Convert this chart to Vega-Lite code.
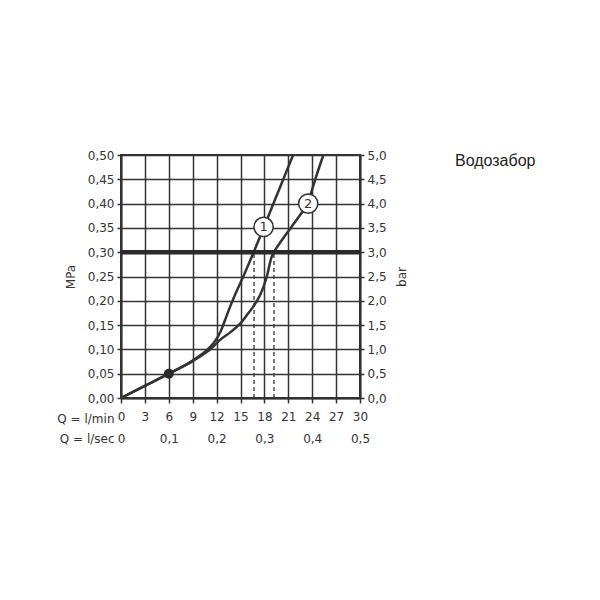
{
  "$schema": "https://vega.github.io/schema/vega-lite/v6.json",
  "autosize": {"type": "none"},
  "padding": {"left": 121, "top": 155, "right": 240, "bottom": 202},
  "width": 239,
  "height": 243,
  "background": "white",
  "title": {
    "text": "Водозабор",
    "anchor": "start",
    "frame": "group",
    "orient": "top",
    "baseline": "alphabetic",
    "offset": 0,
    "dx": 334,
    "dy": 33,
    "font": "Liberation Sans",
    "fontSize": 16,
    "fontWeight": "normal",
    "color": "#222222"
  },
  "config": {
    "view": {"stroke": "#333333", "strokeWidth": 2},
    "axis": {
      "labelFont": "DejaVu Sans",
      "labelFontSize": 12,
      "labelColor": "#333333",
      "titleFont": "DejaVu Sans",
      "titleFontSize": 12,
      "titleFontWeight": "normal",
      "titleColor": "#333333",
      "domainColor": "#333333",
      "domainWidth": 2,
      "tickColor": "#333333",
      "tickWidth": 1.5,
      "gridColor": "#333333",
      "gridWidth": 1.5,
      "gridOpacity": 1
    }
  },
  "datasets": {
    "curves": [
      {"series": "1", "q": 0, "p": 0},
      {"series": "1", "q": 3, "p": 0.025},
      {"series": "1", "q": 6, "p": 0.05},
      {"series": "1", "q": 9, "p": 0.077},
      {"series": "1", "q": 11, "p": 0.102},
      {"series": "1", "q": 11.8, "p": 0.117},
      {"series": "1", "q": 12.5, "p": 0.137},
      {"series": "1", "q": 13.05, "p": 0.16},
      {"series": "1", "q": 13.7, "p": 0.188},
      {"series": "1", "q": 14.3, "p": 0.212},
      {"series": "1", "q": 15.35, "p": 0.25},
      {"series": "1", "q": 16.6, "p": 0.298},
      {"series": "1", "q": 18.0, "p": 0.354},
      {"series": "1", "q": 19.8, "p": 0.427},
      {"series": "1", "q": 21.6, "p": 0.5},
      {"series": "2", "q": 0, "p": 0},
      {"series": "2", "q": 3, "p": 0.025},
      {"series": "2", "q": 6, "p": 0.05},
      {"series": "2", "q": 9, "p": 0.076},
      {"series": "2", "q": 9.9, "p": 0.085},
      {"series": "2", "q": 11.2, "p": 0.1},
      {"series": "2", "q": 12.4, "p": 0.119},
      {"series": "2", "q": 13.7, "p": 0.135},
      {"series": "2", "q": 14.9, "p": 0.152},
      {"series": "2", "q": 16.0, "p": 0.175},
      {"series": "2", "q": 16.6, "p": 0.188},
      {"series": "2", "q": 17.4, "p": 0.21},
      {"series": "2", "q": 17.9, "p": 0.229},
      {"series": "2", "q": 18.3, "p": 0.25},
      {"series": "2", "q": 18.9, "p": 0.29},
      {"series": "2", "q": 19.2, "p": 0.3},
      {"series": "2", "q": 20.2, "p": 0.325},
      {"series": "2", "q": 21.4, "p": 0.352},
      {"series": "2", "q": 22.5, "p": 0.377},
      {"series": "2", "q": 23.5, "p": 0.402},
      {"series": "2", "q": 24.1, "p": 0.435},
      {"series": "2", "q": 25.4, "p": 0.5}
    ],
    "markers": [
      {"label": "1", "q": 17.9, "p": 0.352},
      {"label": "2", "q": 23.5, "p": 0.4}
    ],
    "dashes": [
      {"q": 16.7, "p": 0, "p2": 0.3},
      {"q": 19.2, "p": 0, "p2": 0.3}
    ],
    "limit": [{"p": 0.3}],
    "point": [{"q": 6, "p": 0.05}]
  },
  "layer": [
    {
      "data": {"name": "curves"},
      "mark": {"type": "line", "interpolate": "monotone", "color": "#333333", "strokeWidth": 2.5},
      "encoding": {
        "x": {
          "field": "q", "type": "quantitative",
          "scale": {"domain": [0, 30], "nice": false, "zero": false},
          "axis": {
            "values": [0, 3, 6, 9, 12, 15, 18, 21, 24, 27, 30],
            "grid": true,
            "tickSize": 5,
            "labelPadding": 8,
            "labelFlush": false,
            "labelExpr": "format(datum.value, 'd')",
            "title": "Q = l/min",
            "titleAnchor": "start",
            "titleAlign": "right",
            "titleBaseline": "middle",
            "titleX": -7,
            "titleY": 20,
            "titleAngle": 0
          }
        },
        "y": {
          "field": "p", "type": "quantitative",
          "scale": {"domain": [0, 0.5], "nice": false, "zero": false},
          "axis": {
            "values": [0, 0.05, 0.1, 0.15, 0.2, 0.25, 0.3, 0.35, 0.4, 0.45, 0.5],
            "grid": true,
            "tickSize": 4,
            "labelPadding": 3,
            "labelFlush": false,
            "labelExpr": "replace(format(datum.value, '.2f'), '.', ',')",
            "title": "MPa",
            "titlePadding": 10
          }
        },
        "detail": {"field": "series", "type": "nominal"}
      }
    },
    {
      "data": {"name": "limit"},
      "mark": {"type": "rule", "color": "#2a2a2a", "strokeWidth": 4.5},
      "encoding": {
        "y": {"field": "p", "type": "quantitative", "scale": {"domain": [0, 0.5], "nice": false, "zero": false}, "axis": null}
      }
    },
    {
      "data": {"name": "dashes"},
      "mark": {"type": "rule", "color": "#333333", "strokeWidth": 1.3, "strokeDash": [4, 3]},
      "encoding": {
        "x": {
          "field": "q", "type": "quantitative",
          "scale": {"domain": [0, 30], "nice": false, "zero": false},
          "axis": {
            "orient": "bottom",
            "values": [0, 6, 12, 18, 24, 30],
            "grid": false,
            "ticks": false,
            "domain": false,
            "labelPadding": 35,
            "labelFlush": false,
            "labelExpr": "datum.value == 0 ? '0' : replace(format(datum.value / 60, '.1f'), '.', ',')",
            "title": "Q = l/sec",
            "titleAnchor": "start",
            "titleAlign": "right",
            "titleBaseline": "middle",
            "titleX": -7,
            "titleY": 40,
            "titleAngle": 0
          }
        },
        "y": {
          "field": "p", "type": "quantitative",
          "scale": {"domain": [0, 0.5], "nice": false, "zero": false},
          "axis": {
            "orient": "right",
            "values": [0, 0.05, 0.1, 0.15, 0.2, 0.25, 0.3, 0.35, 0.4, 0.45, 0.5],
            "grid": false,
            "tickSize": 4,
            "labelPadding": 3,
            "labelFlush": false,
            "labelExpr": "replace(format(datum.value * 10, '.1f'), '.', ',')",
            "title": "bar",
            "titleAngle": 270,
            "titleBaseline": "top",
            "titlePadding": 10
          }
        },
        "y2": {"field": "p2"}
      }
    },
    {
      "data": {"name": "point"},
      "mark": {"type": "point", "shape": "circle", "filled": true, "color": "#2a2a2a", "size": 100, "opacity": 1},
      "encoding": {
        "x": {"field": "q", "type": "quantitative", "scale": {"domain": [0, 30], "nice": false, "zero": false}, "axis": null},
        "y": {"field": "p", "type": "quantitative", "scale": {"domain": [0, 0.5], "nice": false, "zero": false}, "axis": null}
      }
    },
    {
      "data": {"name": "markers"},
      "mark": {"type": "point", "shape": "circle", "filled": true, "fill": "white", "stroke": "#333333", "strokeWidth": 1.5, "size": 370, "opacity": 1},
      "encoding": {
        "x": {"field": "q", "type": "quantitative", "scale": {"domain": [0, 30], "nice": false, "zero": false}, "axis": null},
        "y": {"field": "p", "type": "quantitative", "scale": {"domain": [0, 0.5], "nice": false, "zero": false}, "axis": null}
      }
    },
    {
      "data": {"name": "markers"},
      "mark": {"type": "text", "font": "DejaVu Sans", "fontSize": 13, "color": "#333333", "align": "center", "baseline": "middle"},
      "encoding": {
        "x": {"field": "q", "type": "quantitative", "scale": {"domain": [0, 30], "nice": false, "zero": false}, "axis": null},
        "y": {"field": "p", "type": "quantitative", "scale": {"domain": [0, 0.5], "nice": false, "zero": false}, "axis": null},
        "text": {"field": "label"}
      }
    }
  ],
  "resolve": {"axis": {"x": "independent", "y": "independent"}}
}
